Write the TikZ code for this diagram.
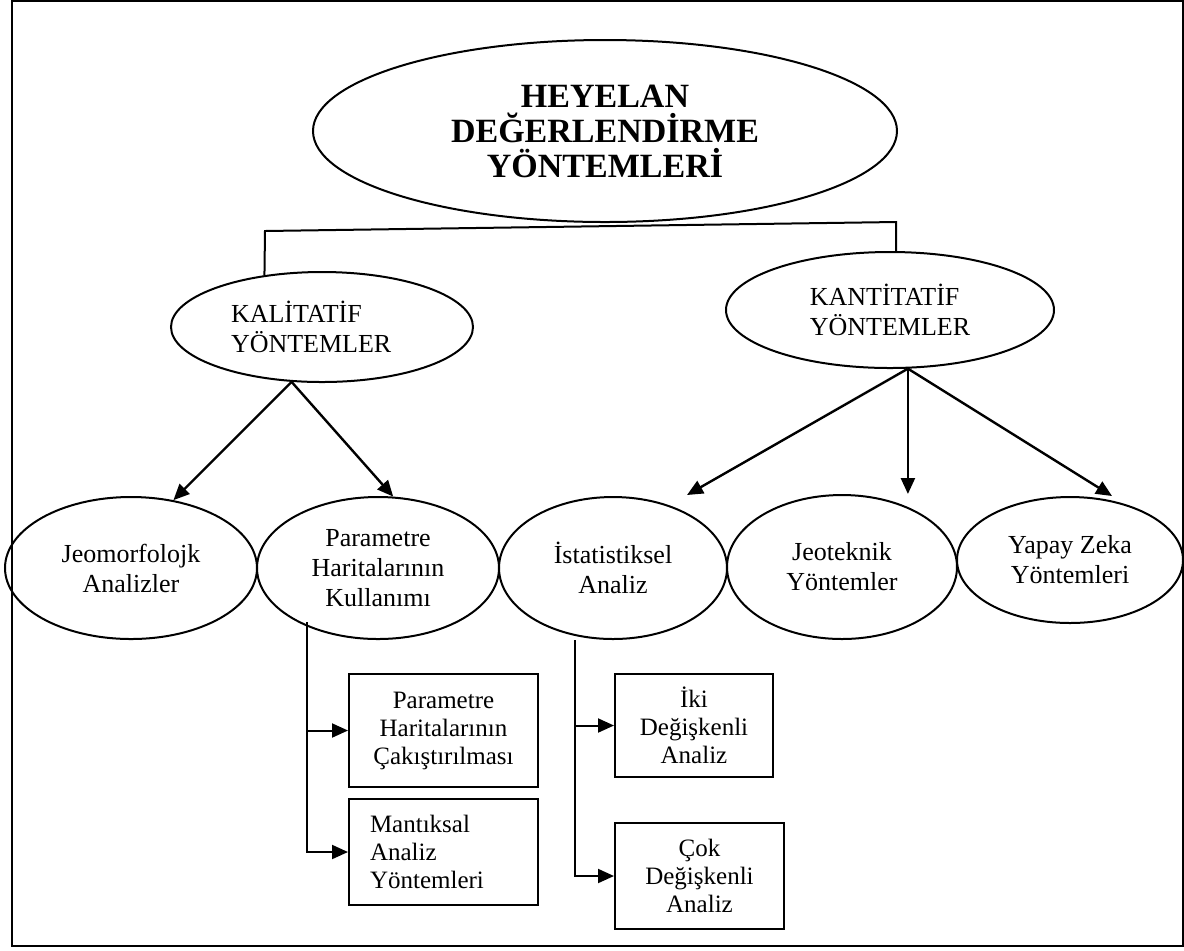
\documentclass[tikz,border=0pt]{standalone}
\usepackage{fontspec}
\setmainfont{Liberation Serif}
\usetikzlibrary{arrows.meta,shapes.geometric}

\begin{document}
\begin{tikzpicture}[x=0.5pt, y=-0.5pt, line width=1pt,
    oval/.style={draw, ellipse, inner sep=0pt, align=center, font=\fontsize{13}{15}\selectfont},
    kutu/.style={draw, rectangle, inner sep=0pt, align=center, font=\fontsize{12.5}{14}\selectfont},
    ok/.style={-{Triangle[length=8pt, width=7pt]}, line width=1.2pt}]

% Frame
\useasboundingbox (0,0) rectangle (1184,950);
\draw[line width=1.3pt] (12,1) rectangle (1183,946);

% Main ellipse
\node[oval, minimum width=292pt, minimum height=91pt, font=\fontsize{17}{17.5}\selectfont\bfseries] (ana) at (605,131) {HEYELAN\\DEĞERLENDİRME\\YÖNTEMLERİ};

% Second level
\node[oval, minimum width=151pt, minimum height=55pt, text width=91pt, align=left] (kal) at (322,327) {KALİTATİF\\YÖNTEMLER};
\node[oval, minimum width=164pt, minimum height=58pt, align=left] (kan) at (890,310) {KANTİTATİF\\YÖNTEMLER};

% Third level
\node[oval, minimum width=126pt, minimum height=71pt] (jeo) at (131,568) {Jeomorfolojk\\Analizler};
\node[oval, minimum width=121pt, minimum height=71pt] (par) at (378,568) {Parametre\\Haritalarının\\Kullanımı};
\node[oval, minimum width=114pt, minimum height=71pt] (ist) at (613,568) {İstatistiksel\\Analiz};
\node[oval, minimum width=115pt, minimum height=72pt] (jeot) at (842,567) {Jeoteknik\\Yöntemler};
\node[oval, minimum width=113pt, minimum height=63pt] (yap) at (1070,560) {Yapay Zeka\\Yöntemleri};

% Boxes
\node[kutu, minimum width=94.5pt, minimum height=56.5pt] (b1) at (443.5,730.5) {Parametre\\Haritalarının\\Çakıştırılması};
\node[kutu, minimum width=94.5pt, minimum height=53pt, text width=73.5pt, align=left] (b2) at (443.5,852) {Mantıksal\\Analiz\\Yöntemleri};
\node[kutu, minimum width=79pt, minimum height=51.5pt] (b3) at (694,725.5) {İki\\Değişkenli\\Analiz};
\node[kutu, minimum width=84.5pt, minimum height=53pt] (b4) at (699.5,876) {Çok\\Değişkenli\\Analiz};

% Top connector
\coordinate (sol) at (265,231);
\coordinate (sag) at (896,222);
\draw (kal.138) -- (sol) -- (sag) -- (kan.84);

% Arrows
\coordinate (istuc) at (687,495);
\coordinate (yapuc) at (1112,496);
\draw[ok] (kal.241) -- (jeo.58);
\draw[ok] (kal.241) -- (par.78);
\draw[ok] (kan.287) -- (istuc);
\draw[ok] (kan.287) -- (kan.287 |- jeot.north);
\draw[ok] (kan.287) -- (yapuc);

% Sub branches
\coordinate (pc) at (307,622);
\coordinate (ic) at (575,640);
\foreach \b in {b1, b2} {
    \draw[ok, line width=1pt] (pc) |- (\b.west);
}
\foreach \b in {b3, b4} {
    \draw[ok, line width=1pt] (ic) |- (\b.west);
}

\end{tikzpicture}
\end{document}
